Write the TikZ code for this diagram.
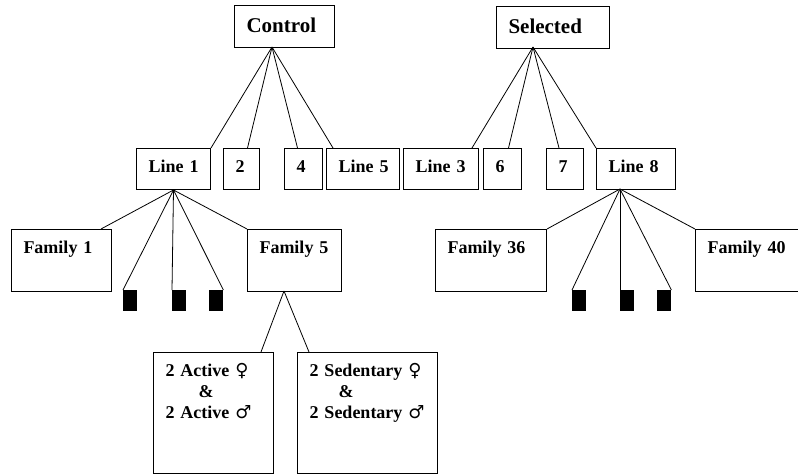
\documentclass[tikz,border=0pt]{standalone}
\usepackage{fontspec}
\setmainfont{Liberation Serif}
\newfontfamily\symfont{DejaVu Sans}

\begin{document}
\begin{tikzpicture}[x=1pt,y=-1pt,
  box/.style={draw, line width=1pt, anchor=north west, align=left, inner xsep=12pt, inner ysep=0pt, text height=24pt, font=\fontsize{18}{21}\selectfont\bfseries},
  headbox/.style={box, text height=27pt, text depth=15pt, font=\fontsize{21}{24}\selectfont\bfseries},
  linebox/.style={box, text depth=17pt},
  fambox/.style={box, text depth=38pt},
  pairbox/.style={box, text depth=97pt},
  stub/.style={fill=black, anchor=north west, inner sep=0pt, minimum width=14pt, minimum height=21pt},
  link/.style={line width=0.8pt}]
\useasboundingbox (0,0) rectangle (798,474);

% top row
\node[headbox, text width=76pt] (control) at (234,5) {Control};
\node[headbox, text width=89pt] (selected) at (496,6) {Selected};

% lines
\node[linebox, text width=50pt] (line1) at (136,148) {\mbox{Line 1}};
\node[linebox, text width=12pt] (l2) at (223,148) {2};
\node[linebox, text width=14pt] (l4) at (284,148) {4};
\node[linebox, text width=49pt] (line5) at (326,148) {\mbox{Line 5}};
\node[linebox, text width=51pt] (line3) at (403,148) {\mbox{Line 3}};
\node[linebox, text width=14pt] (l6) at (483,148) {6};
\node[linebox, text width=13pt] (l7) at (546,148) {7};
\node[linebox, text width=55pt] (line8) at (596,148) {\mbox{Line 8}};

% families
\node[fambox, text width=76pt] (fam1) at (11,229) {Family 1};
\node[fambox, text width=70pt] (fam5) at (247,229) {Family 5};
\node[fambox, text width=87pt] (fam36) at (435,229) {Family 36};
\node[fambox, text width=88pt] (fam40) at (695,229) {Family 40};
\foreach \n/\x in {a/123,b/172,c/209,d/572,e/620,f/657} % unnamed families
\node[stub] (sq\n) at (\x,290) {};

% pairs
\node[pairbox, text width=96pt] (active) at (153,352) {2 Active {\symfont ♀}\\\hspace*{33pt}\&\\2 Active {\symfont ♂}};
\node[pairbox, text width=116pt] (sedentary) at (297,352) {2 Sedentary {\symfont ♀}\\\hspace*{29pt}\&\\2 Sedentary {\symfont ♂}};

% where the links meet
\coordinate (ctrlfoot) at (272,47);
\coordinate (selfoot) at (533,47);
\coordinate (l8foot) at (620,189);
\coordinate (f5foot) at (284,291);

\draw[link] (ctrlfoot) -- (line1.north east);
\draw[link] (ctrlfoot) -- ([xshift=6pt]l2.north);
\draw[link] (ctrlfoot) -- ([xshift=-6pt]l4.north);
\draw[link] (ctrlfoot) -- ([xshift=7pt]line5.north west);
\draw[link] (selfoot) -- ([xshift=-7pt]line3.north east);
\draw[link] (selfoot) -- ([xshift=6pt]l6.north);
\draw[link] (selfoot) -- ([xshift=-6pt]l7.north);
\draw[link] (selfoot) -- (line8.north west);

\draw[link] (line1.south) -- ([xshift=-11pt]fam1.north east);
\draw[link] (line1.south) -- (sqa.north west);
\draw[link] (line1.south) -- (sqb.north west);
\draw[link] (line1.south) -- (sqc.north east);
\draw[link] (line1.south) -- (fam5.north west);
\draw[link] (l8foot) -- (fam36.north east);
\draw[link] (l8foot) -- (sqd.north west);
\draw[link] (l8foot) -- (sqe.north west);
\draw[link] (l8foot) -- (sqf.north east);
\draw[link] (l8foot) -- (fam40.north west);

\draw[link] (f5foot) -- ([xshift=-13pt]active.north east);
\draw[link] (f5foot) -- ([xshift=12pt]sedentary.north west);

\end{tikzpicture}
\end{document}
